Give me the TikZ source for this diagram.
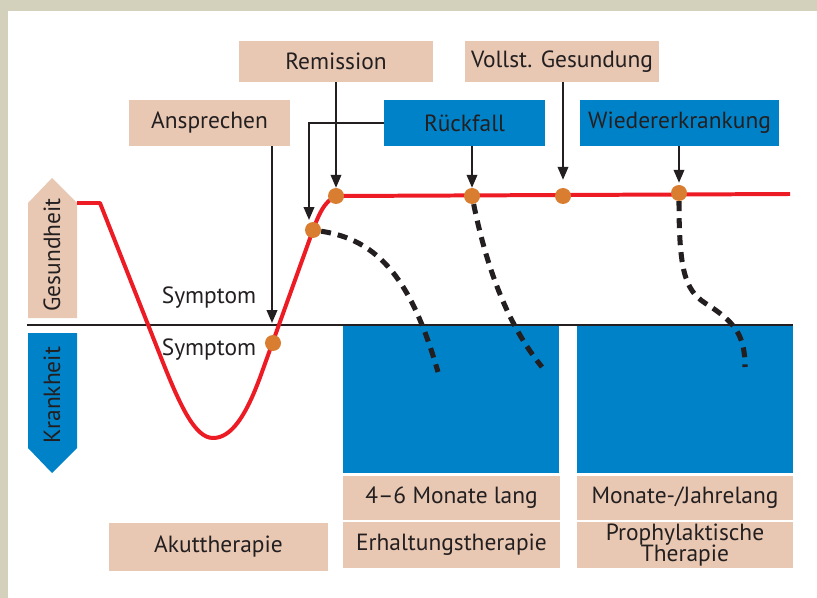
\documentclass[tikz,border=0pt]{standalone}
\usepackage{fontspec}
\setmainfont{PT Sans}
\usepackage{xcolor}
\definecolor{txtdark}{RGB}{35,31,32}
\definecolor{boxpeach}{RGB}{233,200,179}
\definecolor{boxblue}{RGB}{0,130,200}
\definecolor{curvered}{RGB}{237,28,36}
\definecolor{dotorange}{RGB}{217,125,48}
\definecolor{framegray}{RGB}{211,209,188}
\usetikzlibrary{arrows.meta,positioning,calc}

\tikzset{
  lbl/.style={font=\fontsize{20}{18.5}\selectfont, text=txtdark, inner sep=0pt, align=center},
  peachbox/.style={lbl, fill=boxpeach},
  bluebox/.style={lbl, fill=boxblue},
  pointer/.style={-{Triangle[length=11pt,width=9pt]}, line width=1.6pt, draw=txtdark},
  dot/.style={circle, fill=dotorange, inner sep=0pt, minimum size=0.48cm},
  relapse/.style={line width=4.3pt, draw=txtdark, dash pattern=on 8.5pt off 6pt},
}

\begin{document}
\begin{tikzpicture}[x=0.03cm, y=-0.03cm]
  \useasboundingbox (0,0) rectangle (817,598);

  % Frame
  \fill[framegray] (0,0) rectangle (817,11);
  \fill[framegray] (0,0) rectangle (8,598);

  % Scale arrows
  \fill[boxpeach] (28,318) -- (28,203) -- (52,178) -- (77,203) -- (77,318) -- cycle;
  \fill[boxblue] (28,333) -- (28,448) -- (52,473) -- (77,448) -- (77,333) -- cycle;
  \node[lbl, rotate=90] (health) at (52,255) {Gesundheit};
  \node[lbl, rotate=90] (illness) at (52,395) {Krankheit};

  % Therapy phases
  \fill[boxblue] (343,325) rectangle (559,473);
  \fill[boxblue] (577,325) rectangle (793,473);
  \node[peachbox, minimum width=6.51cm, minimum height=1.32cm] (monthsA) at (451.5,498) {4--6 Monate lang};
  \node[peachbox, minimum width=6.51cm, minimum height=1.38cm] (maintain) at (451.5,545) {Erhaltungstherapie};
  \node[peachbox, minimum width=6.48cm, minimum height=1.32cm] (monthsB) at (685,498) {Monate-/Jahrelang};
  \node[peachbox, minimum width=6.48cm, minimum height=1.38cm] (prophyl) at (685,545) {Prophylaktische\\Therapie};
  \node[peachbox, minimum width=6.57cm, minimum height=1.44cm] (acute) at (218.5,547) {Akuttherapie};

  % Axis
  \draw[line width=1.7pt, txtdark] (27,325) -- (793,325);
  \node[lbl] (symUp) at (209,298) {Symptom};
  \node[lbl] (symDown) at (209,350) {Symptom};

  % Event labels
  \node[peachbox, minimum width=4.83cm, minimum height=1.38cm] (response) at (209.5,123) {Ansprechen};
  \node[peachbox, minimum width=5.82cm, minimum height=1.23cm] (remission) at (336,61.5) {Remission};
  \node[peachbox, minimum width=5.82cm, minimum height=1.23cm] (recovery) at (562,61.5) {Vollst. Gesundung};
  \node[bluebox, minimum width=4.83cm, minimum height=1.38cm] (relapse) at (464.5,123) {Rückfall};
  \node[bluebox, minimum width=5.97cm, minimum height=1.38cm] (recurrence) at (679.5,123) {Wiedererkrankung};

  % Course of illness
  \draw[curvered, line width=3.4pt, line join=round]
    (77,203) -- (100,203) -- (160,355)
    .. controls (180,406) and (195,438) .. (213,438)
    .. controls (231,438) and (246,417) .. (262,372)
    -- (313,230) .. controls (321,208) and (328,197) .. (340,196)
    -- (790,194);

  % Events on the curve
  \node[dot] (dotResp) at (273,343) {};
  \node[dot] (dotEarly) at (313,230) {};
  \node[dot] (dotRem) at (336,196) {};
  \node[dot] (dotRel) at (472,196) {};
  \node[dot] (dotRec) at (563,196) {};
  \node[dot] (dotRecur) at (679,193) {};

  % Relapse courses
  \coordinate (endA) at (438,372);
  \coordinate (endB) at (542,367);
  \coordinate (endC) at (745,367);
  \draw[relapse] (dotEarly) .. controls (380,240) and (412,282) .. (endA);
  \draw[relapse] (dotRel) .. controls (485,260) and (505,322) .. (endB);
  \draw[relapse] (dotRecur) .. controls (679,270) and (685,290) .. (705,303)
    .. controls (735,322) and (745,335) .. (endC);

  % Pointers
  \coordinate (respTip) at (272,323);
  \coordinate (earlyTip) at (309,220);
  \draw[pointer] (response.south -| respTip) -- (respTip);
  \draw[pointer] (remission.south -| dotRem) -- (dotRem.north);
  \draw[pointer, rounded corners=0pt] (relapse.west) -| (earlyTip);
  \draw[pointer] (relapse.south -| dotRel) -- (dotRel.north);
  \draw[pointer] (recovery.south -| dotRec) -- ($(dotRec.north)+(0,-8)$);
  \draw[pointer] (recurrence.south -| dotRecur) -- ($(dotRecur.north)+(0,-2)$);
\end{tikzpicture}
\end{document}
